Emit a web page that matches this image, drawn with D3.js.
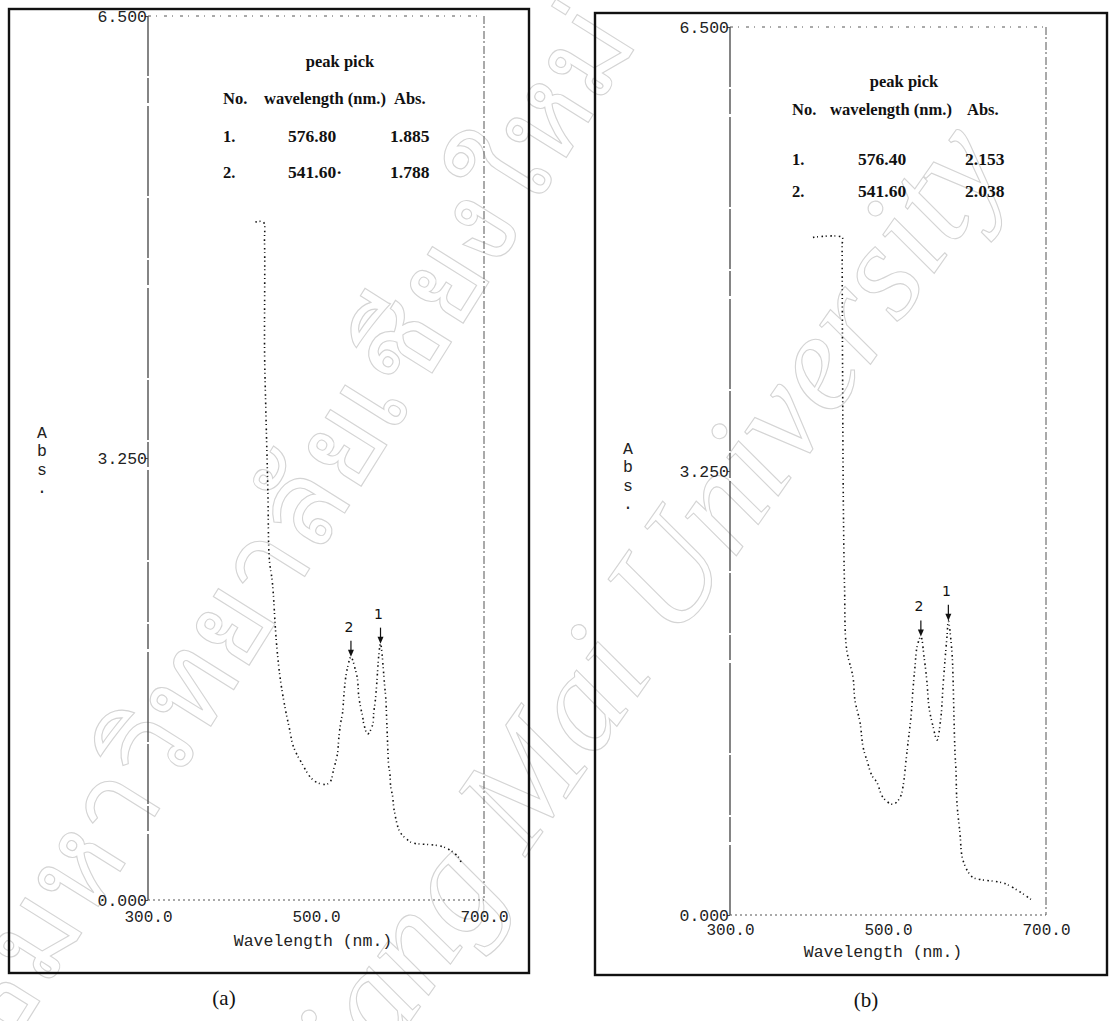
<!DOCTYPE html>
<html>
<head>
<meta charset="utf-8">
<script src="https://cdn.jsdelivr.net/npm/d3@7/dist/d3.min.js"></script>
<style>
  body { margin: 0; background: #fff; }
</style>
</head>
<body>
<svg id="chart" width="1113" height="1021"></svg>
<script>
// axis ticks shared by both spectra
const xTicks = [300, 500, 700]
const yTicks = [0, 3.25, 6.5]

// spectrum (a)
const wlA  = [427.8, 437.3, 438.7, 438.8, 440.3, 442.7, 444.5, 448.0, 452.8, 457.6, 463.6, 468.4, 473.0, 482.7, 497.0, 511.3, 517.0, 521.0, 525.7, 527.0, 529.3, 531.6, 533.0, 535.0, 537.6, 541.6, 547.0, 549.5, 550.7, 553.0, 555.5, 556.7, 561.5, 567.5, 568.7, 571.0, 573.4, 574.6, 576.8, 581.8, 583.0, 584.2, 585.4, 586.6, 587.8, 589.0, 591.3, 592.5, 593.7, 597.3, 601.0, 609.3, 615.0, 652.0, 669.0, 672.5]
const absA = [4.985, 4.985, 4.84, 4.02, 3.60, 3.01, 2.50, 2.34, 1.90, 1.62, 1.40, 1.26, 1.13, 1.01, 0.88, 0.85, 0.87, 0.96, 1.08, 1.18, 1.30, 1.375, 1.49, 1.62, 1.71, 1.788, 1.69, 1.62, 1.51, 1.42, 1.35, 1.30, 1.22, 1.29, 1.375, 1.49, 1.69, 1.79, 1.885, 1.57, 1.49, 1.32, 1.125, 0.98, 0.94, 0.83, 0.76, 0.68, 0.64, 0.54, 0.49, 0.44, 0.42, 0.39, 0.32, 0.28]
const peakNoA  = ["1.", "2."]
const peakWlA  = [576.80, 541.60]
const peakAbsA = [1.885, 1.788]
const peakTxtA = ["576.80", "541.60·"]
const absTxtA  = ["1.885", "1.788"]

// spectrum (b)
const wlB  = [405.0, 441.8, 441.9, 442.5, 443.5, 445.0, 447.5, 455.7, 458.2, 464.6, 468.4, 473.4, 479.7, 486.0, 493.7, 506.3, 515.2, 519.0, 522.8, 525.3, 529.1, 531.6, 534.2, 536.7, 541.6, 545.6, 549.4, 551.9, 557.0, 562.0, 567.0, 569.6, 572.2, 574.7, 576.4, 581.0, 582.3, 583.5, 584.8, 586.0, 587.3, 591.1, 594.9, 606.3, 616.5, 648.0, 682.0]
const absB = [4.96, 4.96, 4.90, 4.00, 3.00, 2.40, 1.95, 1.74, 1.57, 1.41, 1.23, 1.13, 1.02, 0.97, 0.86, 0.81, 0.86, 0.94, 1.13, 1.26, 1.45, 1.65, 1.82, 1.96, 2.038, 1.89, 1.70, 1.52, 1.38, 1.28, 1.45, 1.67, 1.87, 2.04, 2.153, 1.92, 1.74, 1.45, 1.19, 1.06, 0.82, 0.60, 0.40, 0.28, 0.26, 0.23, 0.11]
const peakNoB  = ["1.", "2."]
const peakWlB  = [576.40, 541.60]
const peakAbsB = [2.153, 2.038]
const peakTxtB = ["576.40", "541.60"]
const absTxtB  = ["2.153", "2.038"]

const svg = d3.select("#chart")

// faint copyright watermark of the scan
const wm = svg.append("g").attr("fill", "none").attr("stroke", "#d4d4d4").attr("stroke-width", 1.1)
wm.append("text")
  .attr("transform", "translate(640,40) rotate(-58)")
  .attr("text-anchor", "end")
  .attr("font-family", "Noto Sans, DejaVu Sans, sans-serif")
  .attr("font-size", 120)
  .text("ลิขสิทธิ์มหาวิทยาลัยเชียงใหม่")
wm.append("text")
  .attr("transform", "translate(1010,165) rotate(-55)")
  .attr("text-anchor", "end")
  .attr("font-family", "Liberation Serif")
  .attr("font-style", "italic")
  .attr("font-size", 140)
  .text("Chiang Mai University")

function drawPanel(cfg, wl, ab, nos, pWl, pAbs, pTxt, aTxt) {
  const g = svg.append("g")
  const x = d3.scaleLinear().domain([300, 700]).range([cfg.l, cfg.r])
  const y = d3.scaleLinear().domain([0, 6.5]).range([cfg.b, cfg.t])

  // outer frame
  g.append("rect")
    .attr("x", cfg.frame[0]).attr("y", cfg.frame[1])
    .attr("width", cfg.frame[2] - cfg.frame[0]).attr("height", cfg.frame[3] - cfg.frame[1])
    .attr("fill", "none").attr("stroke", "#111").attr("stroke-width", 2.4)

  // plot box, printed with a worn ribbon
  g.append("line").attr("x1", cfg.l).attr("x2", cfg.l).attr("y1", cfg.t).attr("y2", cfg.b)
    .attr("stroke", "#444").attr("stroke-width", 1.3).attr("stroke-dasharray", "60 2 25 3 90 2")
  g.append("line").attr("x1", cfg.l).attr("x2", cfg.r).attr("y1", cfg.t).attr("y2", cfg.t)
    .attr("stroke", "#555").attr("stroke-width", 1).attr("stroke-dasharray", "3 5 1 7")
  g.append("line").attr("x1", cfg.r).attr("x2", cfg.r).attr("y1", cfg.t).attr("y2", cfg.b)
    .attr("stroke", "#555").attr("stroke-width", 1).attr("stroke-dasharray", "8 2 2 3")
  g.append("line").attr("x1", cfg.l).attr("x2", cfg.r).attr("y1", cfg.b).attr("y2", cfg.b)
    .attr("stroke", "#555").attr("stroke-width", 1).attr("stroke-dasharray", "2 3")

  const ya = g.append("g").attr("transform", `translate(${cfg.l},0)`)
    .call(d3.axisLeft(y).tickValues(yTicks).tickFormat(d3.format(".3f")).tickSize(3).tickPadding(-2))
  ya.select(".domain").remove()
  ya.selectAll("line").attr("stroke", "#444")
  ya.selectAll("text").attr("font-family", "Liberation Mono").attr("font-size", 16.5).attr("fill", "#222")

  const xa = g.append("g").attr("transform", `translate(0,${cfg.b})`)
    .call(d3.axisBottom(x).tickValues(xTicks).tickFormat(d3.format(".1f")).tickSize(0).tickPadding(cfg.xPad))
  xa.select(".domain").remove()
  xa.selectAll("text").attr("font-family", "Liberation Mono").attr("font-size", 16).attr("fill", "#222")

  g.append("text").attr("x", cfg.xTitle[0]).attr("y", cfg.xTitle[1]).attr("dy", "0.35em")
    .attr("text-anchor", "middle").attr("font-family", "Liberation Mono").attr("font-size", 16.5).attr("fill", "#222")
    .text("Wavelength (nm.)")

  const yt = g.append("text").attr("font-family", "Liberation Mono").attr("font-size", 16.5).attr("fill", "#222")
    .attr("text-anchor", "middle")
  ;["A", "b", "s", "."].forEach((c, i) => {
    yt.append("tspan").attr("x", cfg.yTitle[0]).attr("y", cfg.yTitle[1] + i * 18.5).attr("dy", "0.35em").text(c)
  })

  // spectrum trace
  const pts = wl.map((w, i) => [w, ab[i]])
  const line = d3.line().x(d => x(d[0])).y(d => y(d[1])).curve(d3.curveCatmullRom.alpha(0.5))
  g.append("path").attr("d", line(pts))
    .attr("fill", "none").attr("stroke", "#111").attr("stroke-width", 1.6)
    .attr("stroke-dasharray", "1.6 2.6 1 3.4")

  // peak markers
  pWl.forEach((w, i) => {
    const px = x(w), py = y(pAbs[i])
    g.append("line").attr("x1", px).attr("x2", px).attr("y1", py - 16).attr("y2", py - 3)
      .attr("stroke", "#111").attr("stroke-width", 1.2)
    g.append("path").attr("d", `M${px - 3},${py - 7}L${px},${py}L${px + 3},${py - 7}Z`).attr("fill", "#111")
    g.append("text").attr("x", px - 2).attr("y", py - 30).attr("dy", "0.35em")
      .attr("text-anchor", "middle").attr("font-family", "DejaVu Sans").attr("font-size", 14).attr("fill", "#111")
      .text(nos[i].replace(".", ""))
  })

  // peak pick table
  const t = g.append("g").attr("font-family", "Liberation Serif").attr("font-weight", "bold")
    .attr("font-size", 16.5).attr("fill", "#111")
  t.append("text").attr("x", cfg.tbl.title).attr("y", cfg.tbl.rows[0]).attr("text-anchor", "middle").text("peak pick")
  t.append("text").attr("x", cfg.tbl.no).attr("y", cfg.tbl.rows[1]).text("No.")
  t.append("text").attr("x", cfg.tbl.head).attr("y", cfg.tbl.rows[1]).text("wavelength (nm.)")
  t.append("text").attr("x", cfg.tbl.absHead).attr("y", cfg.tbl.rows[1]).text("Abs.")
  nos.forEach((n, i) => {
    const yy = cfg.tbl.rows[2 + i]
    t.append("text").attr("x", cfg.tbl.no).attr("y", yy).text(n)
    t.append("text").attr("x", cfg.tbl.wl).attr("y", yy).attr("font-size", 17.5).text(pTxt[i])
    t.append("text").attr("x", cfg.tbl.abs).attr("y", yy).attr("font-size", 17.5).text(aTxt[i])
  })

  g.append("text").attr("x", cfg.tag[0]).attr("y", cfg.tag[1]).attr("dy", "0.35em")
    .attr("text-anchor", "middle").attr("font-family", "Liberation Serif").attr("font-size", 21).attr("fill", "#111")
    .text(cfg.name)
}

drawPanel({
  name: "(a)", frame: [9, 9, 529, 973], l: 148, r: 484, t: 16, b: 900, xPad: 11,
  xTitle: [313, 940], yTitle: [42, 432], tag: [224, 998],
  tbl: { title: 340, no: 223, head: 264, absHead: 394, wl: 288, abs: 390, rows: [67, 104, 142, 178] }
}, wlA, absA, peakNoA, peakWlA, peakAbsA, peakTxtA, absTxtA)

drawPanel({
  name: "(b)", frame: [595, 13, 1107, 975], l: 730, r: 1046, t: 27, b: 915, xPad: 9,
  xTitle: [883, 951], yTitle: [628, 448], tag: [866, 1000],
  tbl: { title: 904, no: 792, head: 830, absHead: 967, wl: 858, abs: 965, rows: [87, 115, 165, 197] }
}, wlB, absB, peakNoB, peakWlB, peakAbsB, peakTxtB, absTxtB)
</script>
</body>
</html>
